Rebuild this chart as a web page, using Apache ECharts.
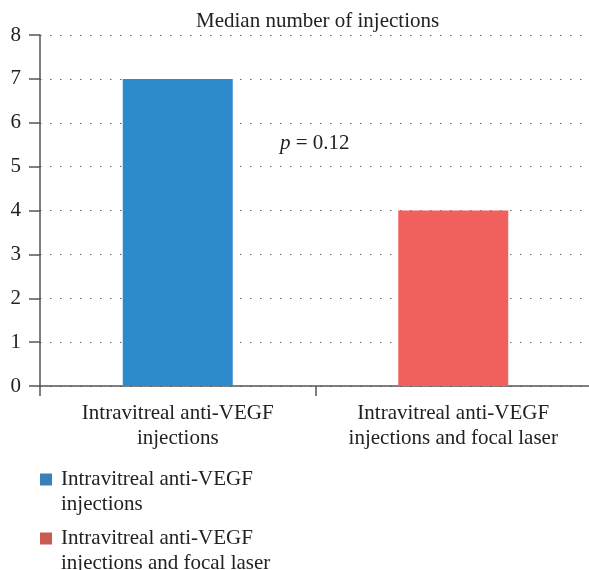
<!DOCTYPE html>
<html>
<head>
<meta charset="utf-8">
<script src="https://cdn.jsdelivr.net/npm/echarts@6/dist/echarts.min.js"></script>
<style>
  html, body { margin: 0; padding: 0; background: #fff; }
  #chart { width: 589px; height: 570px; }
</style>
</head>
<body>
<div id="chart"></div>
<script>
const categories = ['Intravitreal anti-VEGF\ninjections', 'Intravitreal anti-VEGF\ninjections and focal laser']
const seriesNames = ['Intravitreal anti-VEGF\ninjections', 'Intravitreal anti-VEGF\ninjections and focal laser']
const medians = [7, 4]
const barColors = ['#2e8bcb', '#f0605d']
const legendColors = ['#3a80b8', '#c85a52']
const yTicks = [0, 1, 2, 3, 4, 5, 6, 7, 8]

const font = '"Liberation Serif", "DejaVu Serif", serif'
const fs = 21
const chart = echarts.init(document.getElementById('chart'))

chart.setOption({
  animation: false,
  textStyle: { fontFamily: font },
  title: {
    text: 'Median number of injections',
    left: 191,
    top: 6,
    textStyle: { fontFamily: font, fontSize: fs, fontWeight: 'normal', color: '#222' },
  },
  grid: { left: 40, top: 35, width: 551, height: 351, outerBoundsMode: 'none' },
  legend: {
    orient: 'vertical',
    left: 40,
    top: 442,
    height: 300,
    padding: 0,
    itemWidth: 12,
    itemHeight: 12,
    itemGap: -16,
    icon: 'rect',
    formatter: name => '\n' + name,
    data: seriesNames.map((n, i) => ({ name: n, itemStyle: { color: legendColors[i] } })),
    textStyle: { fontFamily: font, fontSize: fs, color: '#222', lineHeight: 25, padding: [0, 0, 0, 4] },
  },
  xAxis: {
    type: 'category',
    data: categories,
    axisLine: { lineStyle: { color: '#555', width: 1.5 } },
    axisTick: { show: true, length: 10, lineStyle: { color: '#555', width: 1.5 } },
    axisLabel: { fontFamily: font, fontSize: fs, color: '#222', lineHeight: 25, margin: 15 },
  },
  yAxis: {
    type: 'value',
    min: 0,
    max: 8,
    interval: 1,
    axisLine: { show: true, lineStyle: { color: '#555', width: 1.5 } },
    axisTick: { show: true, length: 11, lineStyle: { color: '#555', width: 1.5 } },
    axisLabel: { fontFamily: font, fontSize: fs, color: '#222', margin: 19,
      formatter: v => (yTicks.includes(v) ? String(v) : '') },
    splitLine: { show: true, lineStyle: { color: '#666', width: 1, type: [1.5, 8.5] } },
  },
  graphic: [{
    type: 'text',
    left: 280,
    top: 133,
    style: {
      text: '{i|p} = 0.12',
      font: fs + 'px ' + font,
      fill: '#222',
      rich: { i: { fontStyle: 'italic', fontFamily: font, fontSize: fs, fill: '#222' } },
    },
  }],
  series: seriesNames.map((n, i) => ({
    name: n,
    type: 'bar',
    stack: 'median',
    barWidth: 110,
    itemStyle: { color: barColors[i] },
    data: categories.map((c, j) => (j === i ? medians[i] : '-')),
  })),
})
</script>
</body>
</html>
